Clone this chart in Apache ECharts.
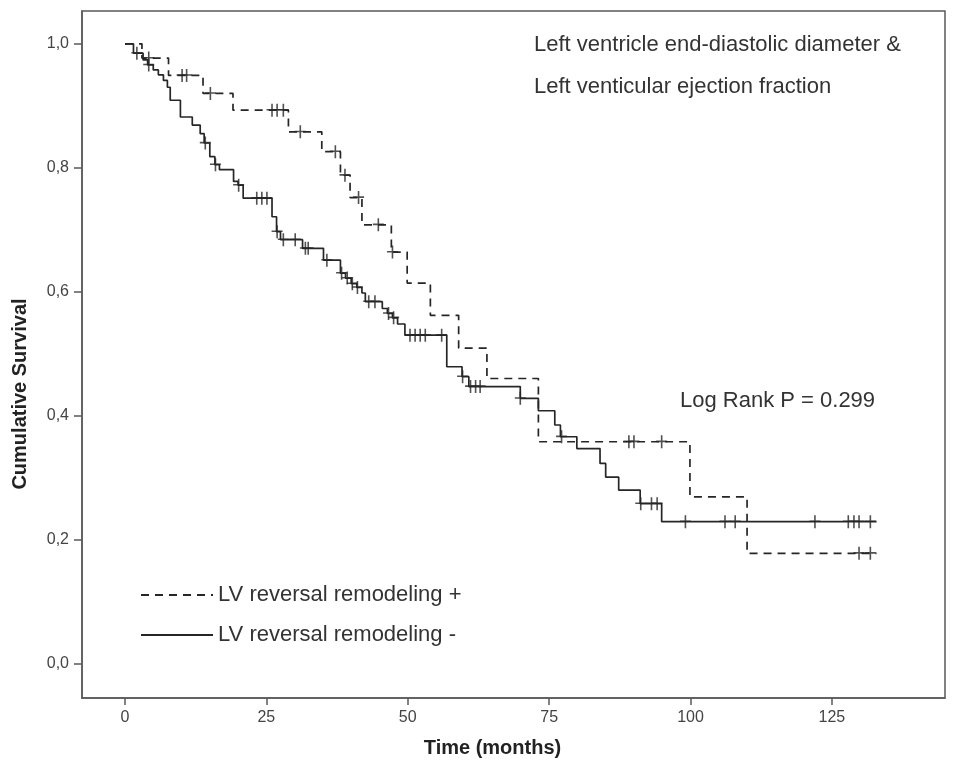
<!DOCTYPE html>
<html>
<head>
<meta charset="utf-8">
<script src="https://cdn.jsdelivr.net/npm/echarts@6/dist/echarts.min.js"></script>
<style>
  html, body { margin: 0; padding: 0; background: #fff; }
  #main { width: 954px; height: 773px; }
</style>
</head>
<body>
<div id="main"></div>
<script>
// LV reversal remodeling + (dashed): step times (months) and survival after each step
const posTimes = [0, 3.0, 7.7, 13.8, 19.1, 28.9, 34.8, 38.1, 39.8, 41.9, 47.1, 49.9, 54.0, 59.0, 64.0, 73.1, 99.9, 110.0, 132.9]
const posSurv = [1.0, 0.977, 0.949, 0.920, 0.893, 0.858, 0.826, 0.788, 0.752, 0.708, 0.664, 0.614, 0.562, 0.509, 0.460, 0.358, 0.269, 0.178, 0.178]
const posCensored = [4.2, 10.1, 10.9, 15.1, 26.0, 26.9, 28.0, 31.0, 37.2, 38.9, 41.3, 44.8, 47.3, 89.1, 90.0, 94.9, 129.8, 131.8]

// LV reversal remodeling - (solid)
const negTimes = [0, 1.5, 3.2, 4.0, 5.0, 5.9, 6.8, 7.5, 8.0, 9.8, 11.9, 13.3, 14.0, 15.0, 15.9, 16.7, 19.2, 20.0, 20.9, 26.0, 26.8, 27.5, 31.4, 35.1, 38.1, 39.0, 40.0, 41.0, 41.9, 42.5, 45.5, 46.4, 47.3, 48.2, 49.5, 56.9, 59.6, 60.8, 69.9, 73.1, 76.0, 77.0, 79.9, 84.0, 85.0, 87.3, 91.1, 94.9, 132.9]
const negSurv = [1.0, 0.985, 0.974, 0.966, 0.958, 0.950, 0.941, 0.930, 0.909, 0.882, 0.869, 0.855, 0.840, 0.818, 0.805, 0.797, 0.778, 0.772, 0.751, 0.721, 0.697, 0.684, 0.670, 0.651, 0.630, 0.622, 0.613, 0.607, 0.598, 0.584, 0.573, 0.565, 0.558, 0.548, 0.530, 0.479, 0.463, 0.447, 0.428, 0.408, 0.385, 0.366, 0.347, 0.323, 0.301, 0.280, 0.258, 0.229, 0.229]
const negCensored = [2.1, 4.2, 14.2, 16.0, 20.1, 23.3, 24.2, 25.1, 26.9, 28.0, 30.1, 31.9, 32.4, 35.7, 38.3, 39.3, 40.2, 41.1, 43.1, 44.2, 46.6, 47.5, 50.4, 51.3, 52.2, 53.1, 56.0, 59.7, 61.1, 62.0, 62.8, 69.9, 77.2, 91.2, 93.1, 94.1, 99.1, 106.1, 107.9, 122.0, 127.9, 128.9, 129.8, 131.8]

const xTicks = [0, 25, 50, 75, 100, 125]
const yTicks = [0, 0.2, 0.4, 0.6, 0.8, 1.0]

const lineColor = '#262626'
const textColor = '#333'
const plusSymbol = 'path://M0,5.3H11V6.9H0Z M4.7,0H6.3V13H4.7Z'

// survival level of a step curve at time t
function survAt(times, surv, t) {
  let s = surv[0]
  for (let i = 0; i < times.length; i++) {
    if (times[i] <= t) s = surv[i]
  }
  return s
}

const myChart = echarts.init(document.getElementById('main'), null, { renderer: 'canvas' })

const option = {
  animation: false,
  backgroundColor: '#fff',
  grid: {
    left: 82,
    right: 9,
    top: 11,
    bottom: 75,
    show: true,
    borderColor: '#5a5a5a',
    borderWidth: 1.5
  },
  legend: {
    data: ['LV reversal remodeling +', 'LV reversal remodeling -'],
    orient: 'vertical',
    left: 135,
    top: 578,
    itemWidth: 72,
    itemHeight: 14,
    itemGap: 16,
    selectedMode: false,
    itemStyle: { opacity: 0 },
    textStyle: { fontFamily: 'Liberation Sans, Arial', fontSize: 22, color: textColor, lineHeight: 24 }
  },
  xAxis: {
    type: 'value',
    min: -7.6,
    max: 145,
    name: 'Time (months)',
    nameLocation: 'middle',
    nameGap: 40,
    nameTextStyle: {
      fontFamily: 'Liberation Sans, Arial', fontSize: 20, fontWeight: 'bold', color: '#222',
      padding: [0, 42, 0, 0]
    },
    axisLine: { show: true, onZero: false, lineStyle: { color: '#5a5a5a', width: 1.5 } },
    axisTick: { show: true, customValues: xTicks, length: 7, lineStyle: { color: '#5a5a5a', width: 1.5 } },
    axisLabel: {
      customValues: xTicks,
      margin: 12,
      fontFamily: 'Liberation Sans, Arial', fontSize: 16, color: '#444'
    },
    splitLine: { show: false }
  },
  yAxis: {
    type: 'value',
    min: -0.0555,
    max: 1.053,
    axisLine: { show: true, onZero: false, lineStyle: { color: '#5a5a5a', width: 1.5 } },
    axisTick: { show: true, customValues: yTicks, length: 8, lineStyle: { color: '#5a5a5a', width: 1.5 } },
    axisLabel: {
      customValues: yTicks,
      margin: 13,
      fontFamily: 'Liberation Sans, Arial', fontSize: 16, color: '#444',
      formatter: function (v) { return v.toFixed(1).replace('.', ',') }
    },
    splitLine: { show: false }
  },
  graphic: [
    {
      type: 'text', x: 20, y: 394, rotation: Math.PI / 2,
      style: {
        text: 'Cumulative Survival', textAlign: 'center', textVerticalAlign: 'middle',
        font: 'bold 20px "Liberation Sans", Arial', fill: '#222'
      }
    },
    {
      type: 'text', x: 534, y: 45,
      style: {
        text: 'Left ventricle end-diastolic diameter &', textAlign: 'left', textVerticalAlign: 'middle',
        font: '22px "Liberation Sans", Arial', fill: textColor
      }
    },
    {
      type: 'text', x: 534, y: 87,
      style: {
        text: 'Left venticular ejection fraction', textAlign: 'left', textVerticalAlign: 'middle',
        font: '22px "Liberation Sans", Arial', fill: textColor
      }
    },
    {
      type: 'text', x: 680, y: 401,
      style: {
        text: 'Log Rank P = 0.299', textAlign: 'left', textVerticalAlign: 'middle',
        font: '22px "Liberation Sans", Arial', fill: textColor
      }
    }
  ],
  series: [
    {
      name: 'LV reversal remodeling +',
      type: 'line',
      step: 'end',
      symbol: 'none',
      silent: true,
      data: posTimes.map((t, i) => [t, posSurv[i]]),
      lineStyle: { color: lineColor, width: 1.7, type: [8, 6] },
      itemStyle: { color: lineColor },
      z: 3
    },
    {
      name: 'LV reversal remodeling -',
      type: 'line',
      step: 'end',
      symbol: 'none',
      silent: true,
      data: negTimes.map((t, i) => [t, negSurv[i]]),
      lineStyle: { color: lineColor, width: 1.7, type: 'solid' },
      itemStyle: { color: lineColor },
      z: 3
    },
    {
      name: 'censored +',
      type: 'scatter',
      symbol: plusSymbol,
      symbolSize: [11, 13],
      silent: true,
      itemStyle: { color: lineColor },
      data: posCensored.map(t => [t, survAt(posTimes, posSurv, t)]),
      z: 4
    },
    {
      name: 'censored -',
      type: 'scatter',
      symbol: plusSymbol,
      symbolSize: [11, 13],
      silent: true,
      itemStyle: { color: lineColor },
      data: negCensored.map(t => [t, survAt(negTimes, negSurv, t)]),
      z: 4
    }
  ]
}

myChart.setOption(option)
window.addEventListener('resize', function () {
  myChart.resize()
})
</script>
</body>
</html>
